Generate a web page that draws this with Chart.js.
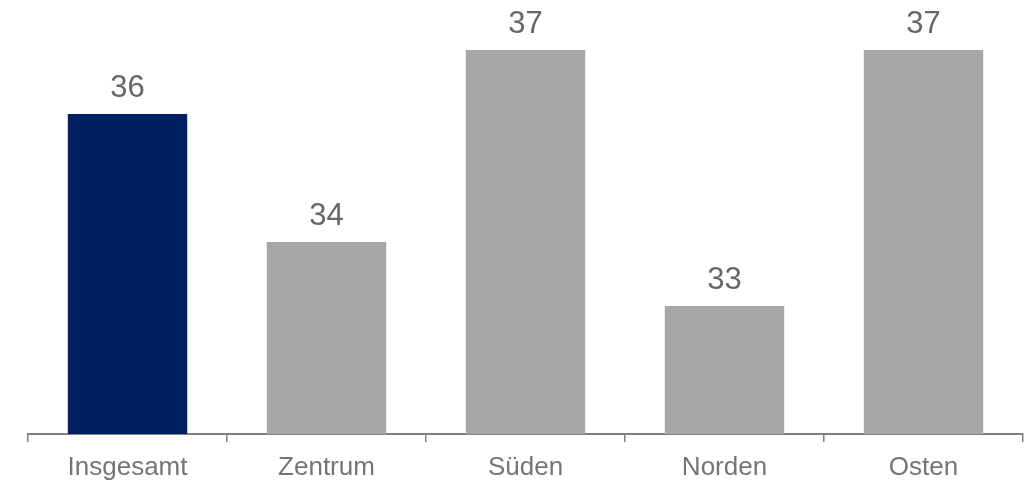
<!DOCTYPE html>
<html lang="de">
<head>
    <meta charset="UTF-8">
    <title>Regionen</title>
    <script src="https://cdn.jsdelivr.net/npm/chart.js"></script>
    <style>
        body {
            margin: 0;
            background: #fff;
        }
        .chart-container {
            width: 1032px;
            height: 481px;
        }
    </style>
</head>
<body>
    <div class="chart-container">
        <canvas id="barChart"></canvas>
    </div>

    <script>
        // Daten
        const categories = ['Insgesamt', 'Zentrum', 'Süden', 'Norden', 'Osten'];
        const values = [36, 34, 37, 33, 37];
        const barColors = ['#002060', '#A6A6A6', '#A6A6A6', '#A6A6A6', '#A6A6A6'];

        // Werte über den Balken
        const valueLabels = {
            id: 'valueLabels',
            afterDatasetsDraw(chart) {
                const ctx = chart.ctx;
                const meta = chart.getDatasetMeta(0);
                ctx.save();
                ctx.font = '31px "Liberation Sans", Arial, sans-serif';
                ctx.fillStyle = '#666666';
                ctx.textAlign = 'center';
                ctx.textBaseline = 'alphabetic';
                meta.data.forEach((bar, i) => {
                    ctx.fillText(values[i], bar.x, bar.y - 17);
                });
                ctx.restore();
            }
        };

        new Chart(document.getElementById('barChart').getContext('2d'), {
            type: 'bar',
            data: {
                labels: categories,
                datasets: [{
                    data: values,
                    backgroundColor: barColors,
                    borderWidth: 0,
                    categoryPercentage: 0.6,
                    barPercentage: 1.0
                }]
            },
            options: {
                responsive: true,
                maintainAspectRatio: false,
                animation: false,
                layout: {
                    padding: { left: 28, right: 9, top: 0, bottom: 0 }
                },
                scales: {
                    y: {
                        display: false,
                        min: 31,
                        max: 37.78
                    },
                    x: {
                        afterFit(scale) {
                            scale.height = 47;
                        },
                        grid: {
                            offset: true,
                            drawOnChartArea: false,
                            drawTicks: true,
                            tickLength: 8,
                            color: '#808080',
                            lineWidth: 1.5
                        },
                        border: {
                            display: true,
                            color: '#808080',
                            width: 2
                        },
                        ticks: {
                            color: '#757575',
                            padding: 10,
                            font: {
                                family: '"Liberation Sans", Arial, sans-serif',
                                size: 26
                            }
                        }
                    }
                },
                plugins: {
                    legend: { display: false },
                    tooltip: { enabled: false }
                }
            },
            plugins: [valueLabels]
        });
    </script>
</body>
</html>
